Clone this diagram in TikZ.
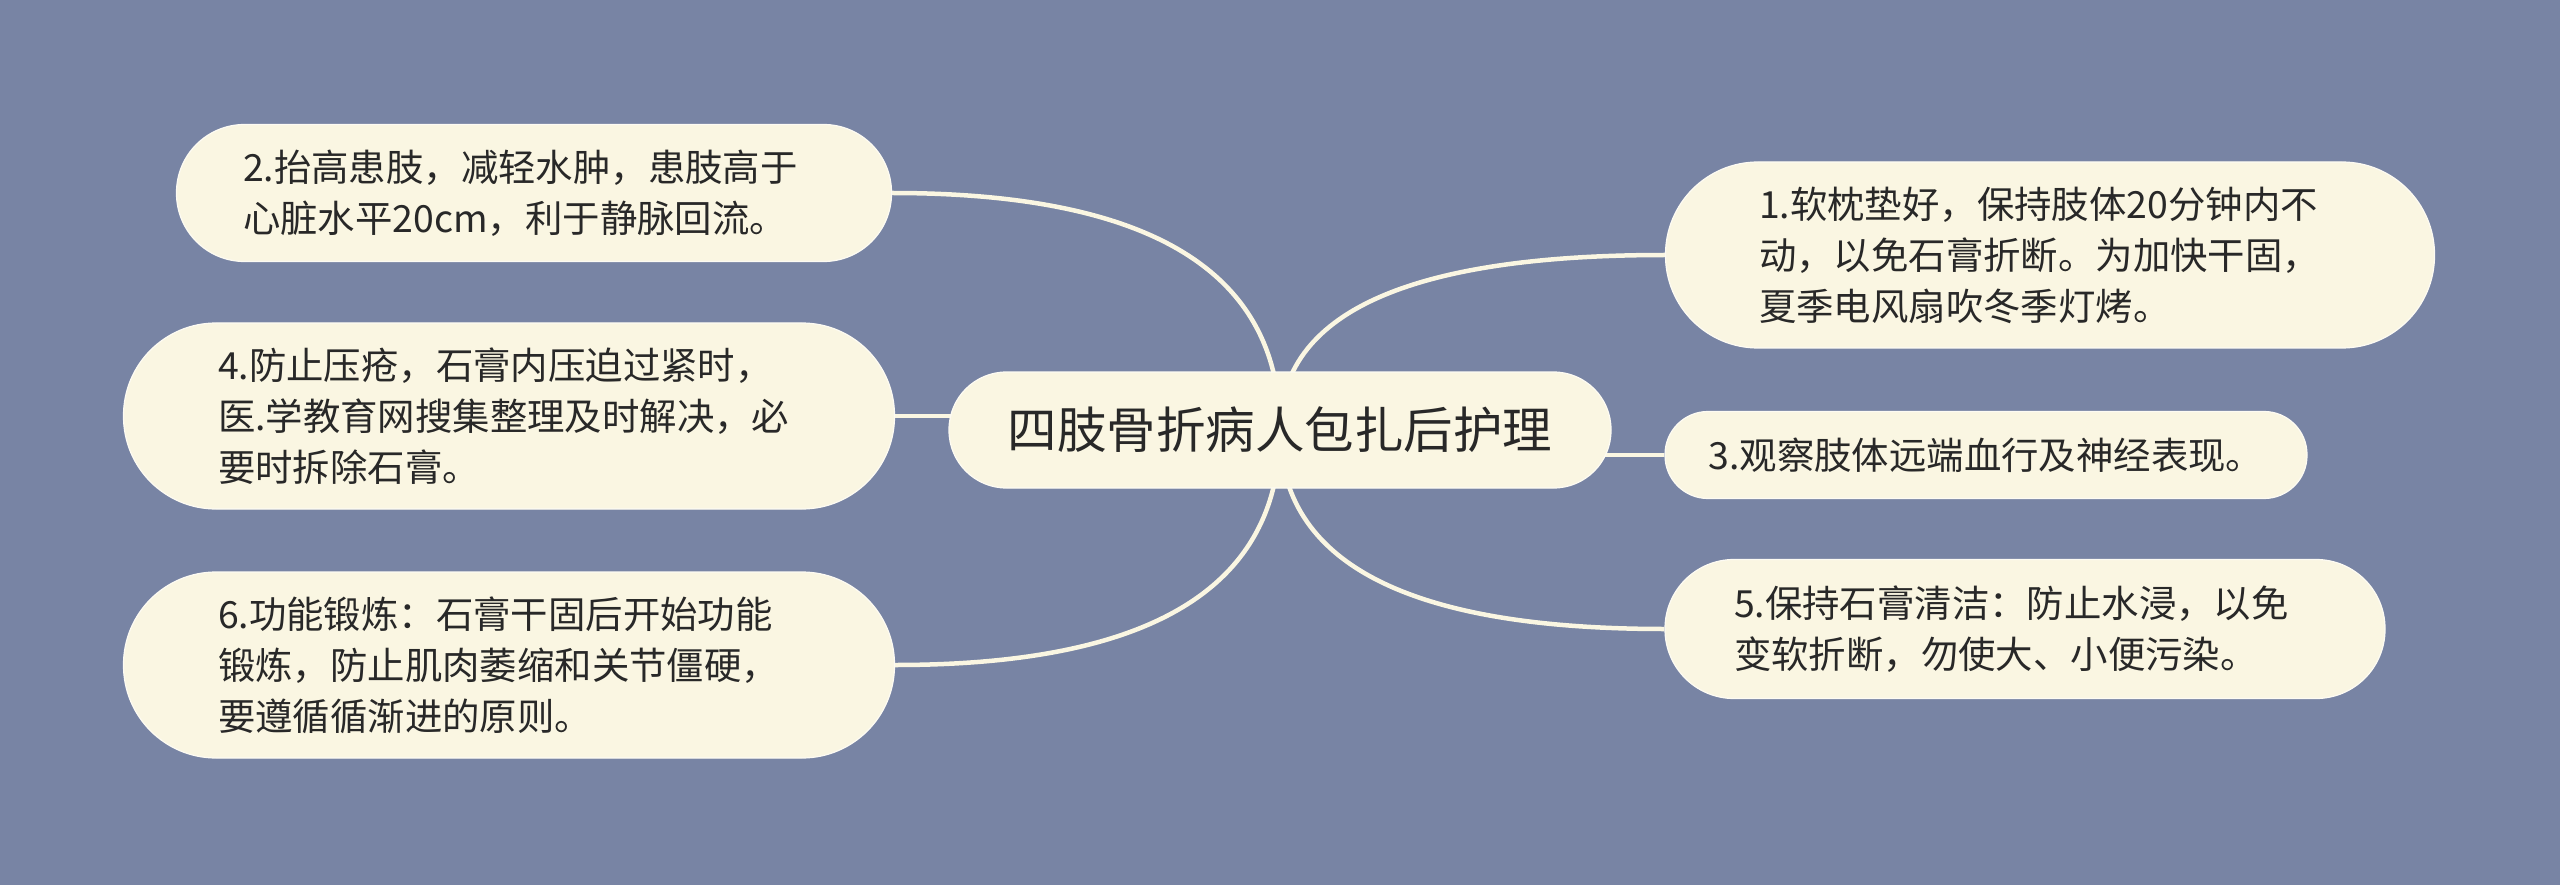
\documentclass[tikz,border=0pt]{standalone}
\usepackage{fontspec}
\newfontfamily\cjk{Noto Sans CJK SC}
\definecolor{bgc}{RGB}{120,132,164}
\definecolor{cream}{RGB}{250,246,226}
\definecolor{txt}{RGB}{40,40,40}
\pgfdeclarelayer{bglayer}
\pgfdeclarelayer{linklayer}
\pgfsetlayers{bglayer,linklayer,main}
\tikzset{
  topic/.style={fill=cream, draw=cream!40!white, line width=1.2pt, text=txt, inner sep=0pt},
  leaf/.style={topic, font=\cjk\fontsize{37.4pt}{51pt}\selectfont, align=left},
  multi/.style={leaf, text width=582pt},
  root/.style={topic, font=\cjk\fontsize{49.5pt}{60pt}\selectfont, align=center},
  link/.style={draw=cream, line width=4.5pt}
}
\begin{document}
\begin{tikzpicture}[x=1pt,y=1pt]
\useasboundingbox (0,0) rectangle (2560,-885);
\begin{pgfonlayer}{bglayer}
\fill[bgc] (0,0) rectangle (2560,-885);
\end{pgfonlayer}

\node[root, minimum width=662pt, minimum height=116pt, rounded corners=57.5pt] (c) at (1280,-430) {四肢骨折病人包扎后护理};

\node[multi, minimum width=769pt, minimum height=186pt, rounded corners=92.5pt] (n1) at (2050,-255)
  {1.软枕垫好，保持肢体20分钟内不\\动，以免石膏折断。为加快干固，\\夏季电风扇吹冬季灯烤。};
\node[multi, minimum width=715pt, minimum height=137pt, rounded corners=68pt] (n2) at (534,-193)
  {2.抬高患肢，减轻水肿，患肢高于\\心脏水平20cm，利于静脉回流。};
\node[leaf, align=center, minimum width=642pt, minimum height=87pt, rounded corners=43pt] (n3) at (1986,-455)
  {3.观察肢体远端血行及神经表现。};
\node[multi, minimum width=771pt, minimum height=186pt, rounded corners=92.5pt] (n4) at (509,-416)
  {4.防止压疮，石膏内压迫过紧时，\\医.学教育网搜集整理及时解决，必\\要时拆除石膏。};
\node[multi, minimum width=720pt, minimum height=139pt, rounded corners=69pt] (n5) at (2025,-629)
  {5.保持石膏清洁：防止水浸，以免\\变软折断，勿使大、小便污染。};
\node[multi, minimum width=771pt, minimum height=186pt, rounded corners=92.5pt] (n6) at (509,-665)
  {6.功能锻炼：石膏干固后开始功能\\锻炼，防止肌肉萎缩和关节僵硬，\\要遵循循渐进的原则。};

\begin{pgfonlayer}{linklayer}
\draw[link] (c.center) to[out=90, in=180, out distance=117pt, in distance=257pt] (n1.west);
\draw[link] (c.center) to[out=90, in=0, out distance=158pt, in distance=259pt] (n2.east);
\draw[link] (c.center |- n3.west) -- (n3.west);
\draw[link] (c.center |- n4.east) -- (n4.east);
\draw[link] (c.center) to[out=-90, in=180, out distance=133pt, in distance=257pt] (n5.west);
\draw[link] (c.center) to[out=-90, in=0, out distance=157pt, in distance=257pt] (n6.east);
\end{pgfonlayer}
\end{tikzpicture}
\end{document}
